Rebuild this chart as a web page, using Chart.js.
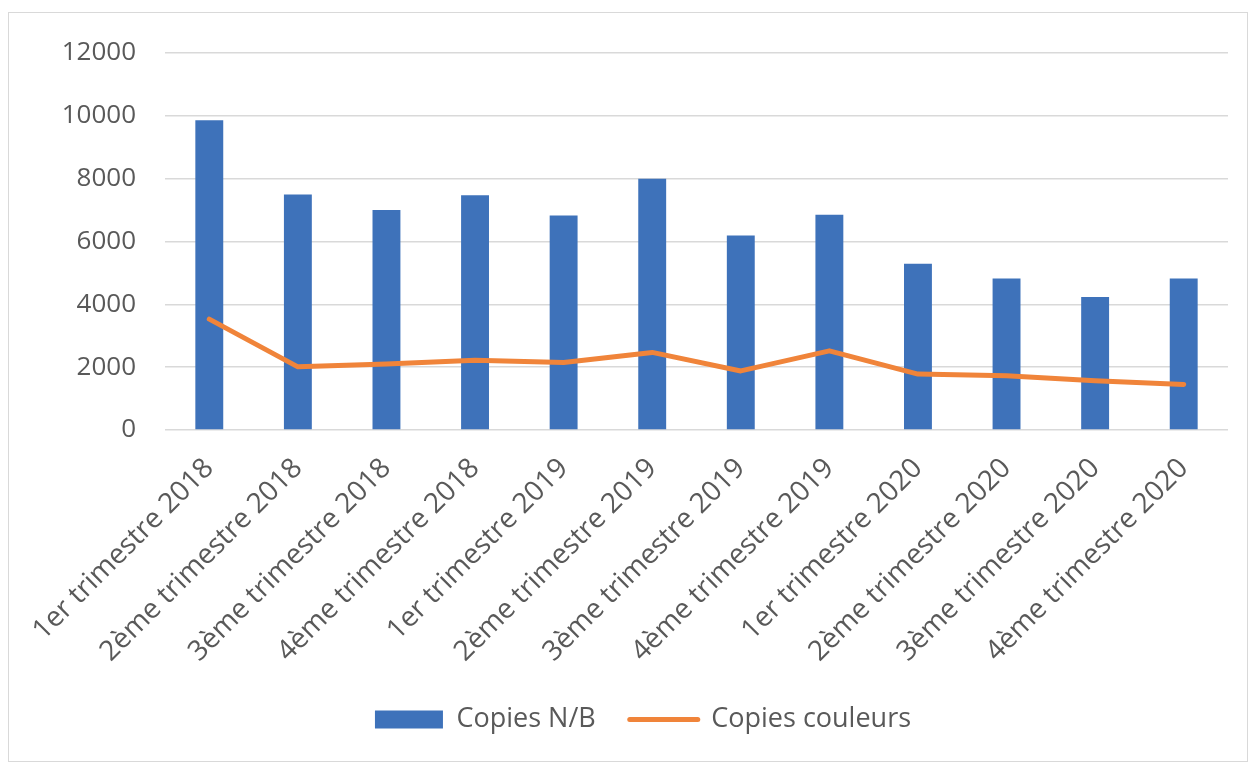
<!DOCTYPE html>
<html lang="fr">
<head>
<meta charset="utf-8">
<title>Copies par trimestre</title>
<script src="https://cdn.jsdelivr.net/npm/chart.js@4.4.1/dist/chart.umd.min.js"></script>
<style>
  html, body { margin: 0; padding: 0; background: #fff; }
  #cadre {
    position: absolute;
    left: 8px;
    top: 12px;
    width: 1238px;
    height: 748px;
    border: 1px solid #d9d9d9;
  }
  #cadre canvas { display: block; }
</style>
</head>
<body>
<div id="cadre"><canvas id="chart-copies"></canvas></div>
<script>
  "use strict";

  // données
  const TRIMESTRES = [
    "1er trimestre 2018", "2ème trimestre 2018", "3ème trimestre 2018", "4ème trimestre 2018",
    "1er trimestre 2019", "2ème trimestre 2019", "3ème trimestre 2019", "4ème trimestre 2019",
    "1er trimestre 2020", "2ème trimestre 2020", "3ème trimestre 2020", "4ème trimestre 2020",
  ];
  const COPIES_NB = [9860, 7500, 7000, 7470, 6830, 8000, 6190, 6850, 5290, 4820, 4230, 4820];
  const COPIES_COULEURS = [3530, 2010, 2100, 2220, 2150, 2470, 1880, 2520, 1780, 1730, 1570, 1450];
  const Y_MIN = 0;
  const Y_MAX = 12000;
  const Y_PAS = 2000;

  const BLEU = "#3e72ba";
  const ORANGE = "#f0843a";
  const GRIS_TEXTE = "#595959";
  const GRIS_GRILLE = "#d9d9d9";
  const POLICE = "'Open Sans', sans-serif";

  Chart.defaults.font.family = POLICE;
  Chart.defaults.color = GRIS_TEXTE;

  const ctx = document.getElementById("chart-copies");
  new Chart(ctx, {
    type: "bar",
    data: {
      labels: TRIMESTRES,
      datasets: [
        {
          type: "line",
          label: "Copies couleurs",
          data: COPIES_COULEURS,
          borderColor: ORANGE,
          backgroundColor: ORANGE,
          borderWidth: 5,
          borderCapStyle: "round",
          borderJoinStyle: "round",
          pointRadius: 0,
          tension: 0,
          fill: false,
        },
        {
          type: "bar",
          label: "Copies N/B",
          data: COPIES_NB,
          backgroundColor: BLEU,
          categoryPercentage: 1,
          barPercentage: 0.315,
        },
      ],
    },
    options: {
      responsive: true,
      maintainAspectRatio: false,
      animation: false,
      // gauche élargie pour recentrer la légende comme dans Excel
      layout: { padding: { top: 40, right: 19, bottom: 18, left: 49 } },
      plugins: {
        tooltip: { enabled: false },
        legend: {
          position: "bottom",
          labels: {
            font: { size: 27 },
            color: GRIS_TEXTE,
            usePointStyle: true,
            pointStyleWidth: 68,
            boxHeight: 18,
            padding: 34,
            generateLabels() {
              return [
                {
                  text: "Copies N/B",
                  fillStyle: BLEU,
                  strokeStyle: BLEU,
                  lineWidth: 0,
                  pointStyle: "rect",
                  datasetIndex: 1,
                  fontColor: GRIS_TEXTE,
                },
                {
                  text: "Copies couleurs",
                  fillStyle: ORANGE,
                  strokeStyle: ORANGE,
                  lineWidth: 5,
                  lineCap: "round",
                  pointStyle: "line",
                  datasetIndex: 0,
                  fontColor: GRIS_TEXTE,
                },
              ];
            },
          },
        },
      },
      scales: {
        x: {
          grid: { display: false },
          border: { display: false },
          ticks: {
            autoSkip: false,
            minRotation: 45,
            maxRotation: 45,
            padding: 14,
            font: { size: 28 },
            color: GRIS_TEXTE,
          },
          afterFit(scale) {
            scale.height = 242;
          },
        },
        y: {
          min: Y_MIN,
          max: Y_MAX,
          grid: { color: GRIS_GRILLE, lineWidth: 1.5, drawTicks: false },
          border: { display: false },
          ticks: {
            stepSize: Y_PAS,
            padding: 29,
            font: { size: 26 },
            color: GRIS_TEXTE,
            callback: (v) => String(v),
          },
          afterFit(scale) {
            scale.width = 107;
            scale.paddingTop = 0;
            scale.paddingBottom = 0;
          },
        },
      },
    },
  });
</script>
</body>
</html>
